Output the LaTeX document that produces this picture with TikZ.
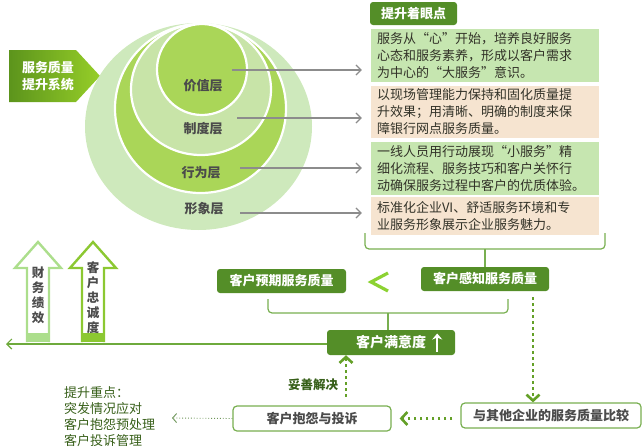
\documentclass[tikz,border=0pt]{standalone}
\usepackage{fontspec}
\setmainfont{Noto Sans CJK SC}
\usetikzlibrary{arrows.meta,shapes.geometric,calc}
\definecolor{dkgreen}{RGB}{84,142,40}
\definecolor{lgfill}{RGB}{198,230,176}
\definecolor{peach}{RGB}{246,228,208}
\definecolor{ellA}{RGB}{206,233,188}
\definecolor{ellB}{RGB}{170,214,88}
\definecolor{ellC}{RGB}{200,228,168}
\definecolor{brline}{RGB}{120,175,80}
\definecolor{dotg}{RGB}{100,160,40}
\definecolor{txtgray}{RGB}{50,50,40}
\definecolor{labgray}{RGB}{75,75,75}
\definecolor{txtgreen}{RGB}{55,95,25}
\definecolor{arrA}{RGB}{172,222,140}
\definecolor{arrB}{RGB}{140,200,50}
\definecolor{ltg}{RGB}{140,210,50}
\begin{document}
\begin{tikzpicture}[x=1pt,y=-1pt,
  gbox/.style={rounded corners=3pt, fill=dkgreen, text=white, font=\bfseries\fontsize{13}{15}\selectfont, inner sep=0pt},
  wbox/.style={rounded corners=4pt, fill=white, draw=brline, line width=1.2pt, text=labgray, font=\bfseries\fontsize{13}{15}\selectfont, inner sep=0pt},
  tbox/.style={inner xsep=6pt, inner ysep=0pt, minimum width=228pt, text width=216pt, align=left, font=\fontsize{13}{17}\selectfont, text=txtgray},
  ell/.style={ellipse, inner sep=0pt, draw=white, line width=2.2pt},
  layer/.style={font=\bfseries\fontsize{13}{15}\selectfont, text=labgray},
  garrow/.style={draw=gray!90, line width=1.2pt, -{Straight Barb[length=5pt,width=10pt]}},
  bline/.style={draw=brline, line width=1.2pt, rounded corners=4pt},
  dotarrow/.style={draw=dotg, line width=2.6pt, dash pattern=on 2.6pt off 3.4pt, -{Straight Barb[length=6pt,width=13pt,line width=2.6pt]}},
  vtext/.style={font=\bfseries\fontsize{12.5}{15}\selectfont, text=labgray, align=center, inner sep=0pt}]
\useasboundingbox (0,0) rectangle (643,447);

% title pentagon
\shade[left color={rgb,255:red,92;green,148;blue,28}, right color={rgb,255:red,150;green,206;blue,40}]
  (9,50) -- (76,50) -- (100,76) -- (76,102) -- (9,102) -- cycle;
\node[font=\bfseries\fontsize{13}{17}\selectfont, text=white, align=center, inner sep=0pt] (title) at (48,76) {服务质量\\提升系统};

% ellipses
\node[ell, draw=none, fill=ellA, minimum width=227pt, minimum height=207pt] (e1) at (198.5,126.5) {};
\node[ell, fill=ellB, minimum width=171pt, minimum height=169pt] (e2) at (200.5,108.5) {};
\node[ell, fill=ellC, minimum width=140pt, minimum height=131pt] (e3) at (201,89.5) {};
\node[ell, fill=ellB, minimum width=90pt, minimum height=91pt] (e4) at (202,69.5) {};
\node[layer] (l1) at (203,86) {价值层};
\node[layer] (l2) at (203,129) {制度层};
\node[layer] (l3) at (201,173) {行为层};
\node[layer] (l4) at (204,209) {形象层};

% header and text boxes
\node[gbox, minimum width=87pt, minimum height=23pt] (head) at (413.5,13.5) {提升着眼点};
\node[tbox, fill=lgfill, minimum height=53pt] (b1) at (485,55.5) {服务从“心”开始，培养良好服务\\心态和服务素养，形成以客户需求\\为中心的“大服务”意识。};
\node[tbox, fill=peach, minimum height=52pt] (b2) at (485,112) {以现场管理能力保持和固化质量提\\升效果；用清晰、明确的制度来保\\障银行网点服务质量。};
\node[tbox, fill=lgfill, minimum height=53pt] (b3) at (485,168.5) {一线人员用行动展现“小服务”精\\细化流程、服务技巧和客户关怀行\\动确保服务过程中客户的优质体验。};
\node[tbox, fill=peach, minimum height=38pt] (b4) at (485,216) {标准化企业VI、舒适服务环境和专\\业服务形象展示企业服务魅力。};

% gray arrows
\coordinate (s1) at (232,70);
\coordinate (s2) at (237,118);
\coordinate (s3) at (240,168);
\coordinate (s4) at (240,213);
\draw[garrow, shorten >=9pt] (s1) -- (s1 -| b1.west);
\draw[garrow, shorten >=9pt] (s2) -- (s2 -| b2.west);
\draw[garrow, shorten >=9pt] (s3) -- (s3 -| b3.west);
\draw[garrow, shorten >=9pt] (s4) -- (s4 -| b4.west);

% middle nodes
\node[gbox, minimum width=128pt, minimum height=24pt] (perc) at (485,279) {客户感知服务质量};
\node[gbox, minimum width=129pt, minimum height=24pt] (expt) at (281.5,281) {客户预期服务质量};
\node[gbox, minimum width=128pt, minimum height=25pt, font=\bfseries\fontsize{14}{16}\selectfont] (sat) at (391,342.5) {客户满意度};
\draw[white, line width=2.4pt, -{Stealth[length=6pt,width=10pt]}] ($(sat.east)+(-18,9)$) -- ($(sat.east)+(-18,-9)$);
\draw[ltg, line width=3.2pt, line join=miter] (388,273) -- (371,282) -- (388,291);

% bracket 1
\coordinate (br1L) at (365,233);
\coordinate (br1R) at (605,233);
\coordinate (br1M) at (485,249);
\draw[bline] (br1L) |- (br1M) -| (br1R);
\draw[brline, line width=1.2pt] (br1M) -- (perc.north);

% bracket 2
\coordinate (br2L) at (268,299);
\coordinate (br2R) at (508,299);
\coordinate (br2M) at (388,313);
\draw[bline] (br2L) |- (br2M) -| (br2R);
\draw[brline, line width=1.2pt] (br2M) -- (sat.north -| br2M);

% long left arrow
\coordinate (leftend) at (6,344);
\draw[draw={rgb,255:red,110;green,170;blue,60}, line width=1.2pt, -{Straight Barb[length=5pt,width=10pt]}] (sat.west |- leftend) -- (leftend);

% hollow arrows
\fill[arrA] (27,333) rectangle (49,342);
\draw[arrA, line width=2.4pt, line join=miter] (27,342) -- (27,268) -- (15,268) -- (38,242) -- (61,268) -- (49,268) -- (49,342);
\node[vtext] (fin) at (38,295) {财\\务\\绩\\效};
\fill[arrB] (82,333) rectangle (104,342);
\draw[arrB, line width=2.4pt, line join=miter] (82,342) -- (82,268) -- (70,268) -- (93,242) -- (116,268) -- (104,268) -- (104,342);
\node[vtext] (loy) at (93,298) {客\\户\\忠\\诚\\度};

% bottom nodes
\node[wbox, minimum width=158pt, minimum height=25pt] (comp) at (312,418.5) {客户抱怨与投诉};
\node[wbox, minimum width=180pt, minimum height=25pt] (cmp) at (551,415.5) {与其他企业的服务质量比较};
\node[font=\bfseries\fontsize{12.5}{15}\selectfont, text=txtgreen, inner sep=0pt] (solve) at (313,385) {妥善解决};
\node[font=\fontsize{13}{16}\selectfont, text=txtgreen, align=left, anchor=north west, inner sep=0pt] (focus) at (64,386) {提升重点：\\突发情况应对\\客户抱怨预处理\\客户投诉管理};

% dotted arrows
\coordinate (d1s) at (346,397);
\draw[dotarrow] (d1s) -- (d1s |- sat.south) ;
\coordinate (d2s) at (533,297);
\draw[dotarrow] (d2s) -- (d2s |- cmp.north);
\draw[dotarrow, shorten <=8pt, shorten >=8pt] (cmp.west |- comp.east) -- (comp.east);
\coordinate (d4e) at (172,418);
\draw[draw={rgb,255:red,110;green,150;blue,90}, line width=0.9pt, dotted, -{Straight Barb[length=4pt,width=9pt,line width=0.9pt]}] (comp.west) -- (d4e);
\end{tikzpicture}
\end{document}
